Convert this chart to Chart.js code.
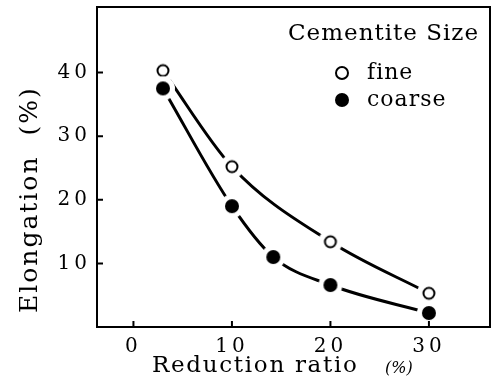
<!DOCTYPE html>
<html>
<head>
<meta charset="utf-8">
<script src="https://cdn.jsdelivr.net/npm/chart.js@4/dist/chart.umd.min.js"></script>
<style>
  html, body { margin: 0; padding: 0; background: #fff; overflow: hidden; }
  #wrap { position: relative; width: 492px; height: 381px; font-family: 'DejaVu Serif', serif; color: #000; }
  #wrap canvas { position: absolute; left: 0; top: 0; }
  #wrap div, #wrap span { position: absolute; white-space: nowrap; line-height: 1; }
  #ytitle { left: 16px; top: 313px; font-size: 25px; letter-spacing: 2px; transform: rotate(-90deg); transform-origin: 0 0; }
  #xtitle { left: 152px; top: 353px; font-size: 23px; letter-spacing: 1.7px; }
  #xpct { left: 385px; top: 360px; font-size: 16px; font-style: italic; }
  #legTitle { left: 288px; top: 21px; font-size: 23px; letter-spacing: 1px; }
  .legTxt { left: 367px; font-size: 22px; letter-spacing: 1px; }
  .mk { width: 14px; height: 14px; border-radius: 50%; box-sizing: border-box; }
</style>
</head>
<body>
<div id="wrap">
  <canvas id="grafico" width="492" height="381" style="width:492px;height:381px"></canvas>
  <div id="ytitle">Elongation<span style="position:relative;margin-left:20px">(%)</span></div>
  <div id="xtitle">Reduction ratio</div>
  <div id="xpct">(%)</div>
  <div id="legTitle">Cementite Size</div>
  <span class="mk" style="left:335px;top:66px;border:2px solid #000;background:#fff"></span>
  <div class="legTxt" style="top:61px">fine</div>
  <span class="mk" style="left:335px;top:93px;background:#000"></span>
  <div class="legTxt" style="top:88px">coarse</div>
</div>
<script>
// Elongation vs reduction ratio, two cementite sizes
const reducaoFina = [3, 10, 20, 30];
const alongFina = [40.3, 25.2, 13.4, 5.3];
const reducaoGrossa = [3, 10, 14.2, 20, 30];
const alongGrossa = [37.5, 19.0, 11.0, 6.6, 2.2];
const ticksX = [0, 10, 20, 30];
const ticksY = [10, 20, 30, 40];

const pontos = (xs, ys) => xs.map((x, i) => ({ x: x, y: ys[i] }));

// marcador com halo branco, para a curva parar antes do círculo
function marcador(cheio) {
  const c = document.createElement('canvas');
  c.width = c.height = 26;
  const g = c.getContext('2d');
  g.fillStyle = '#fff';
  g.beginPath(); g.arc(13, 13, 12, 0, 2 * Math.PI); g.fill();
  g.beginPath(); g.arc(13, 13, cheio ? 7 : 5.5, 0, 2 * Math.PI);
  if (cheio) { g.fillStyle = '#000'; g.fill(); }
  else { g.lineWidth = 2; g.strokeStyle = '#000'; g.stroke(); }
  return c;
}

function serie(xs, ys, cheio) {
  return {
    data: pontos(xs, ys),
    borderColor: '#000',
    borderWidth: 3,
    cubicInterpolationMode: 'monotone',
    pointStyle: marcador(cheio),
    pointRadius: 13
  };
}

// moldura completa + tracinhos para dentro nos ticks
const caixa = {
  id: 'caixa',
  beforeDraw(chart) { chart.ctx.letterSpacing = '4px'; },
  afterDraw(chart) {
    const { ctx, chartArea: a, scales } = chart;
    ctx.save();
    ctx.strokeStyle = '#000';
    ctx.lineWidth = 2;
    ctx.strokeRect(a.left, a.top, a.right - a.left, a.bottom - a.top);
    ctx.beginPath();
    scales.x.ticks.forEach(t => {
      const px = scales.x.getPixelForValue(t.value);
      ctx.moveTo(px, a.bottom); ctx.lineTo(px, a.bottom - 6);
    });
    scales.y.ticks.forEach(t => {
      const py = scales.y.getPixelForValue(t.value);
      ctx.moveTo(a.left, py); ctx.lineTo(a.left + 6, py);
    });
    ctx.stroke();
    ctx.restore();
  }
};

const fonteTick = { family: 'DejaVu Serif', size: 20 };
const semPadding = s => { s.paddingLeft = s.paddingRight = s.paddingTop = s.paddingBottom = 0; };

new Chart(document.getElementById('grafico'), {
  type: 'line',
  data: {
    datasets: [
      serie(reducaoGrossa, alongGrossa, true),
      serie(reducaoFina, alongFina, false)
    ]
  },
  options: {
    responsive: false,
    animation: false,
    devicePixelRatio: 1,
    layout: { autoPadding: false, padding: { top: 7, right: 2, left: 0, bottom: 0 } },
    plugins: { legend: { display: false }, tooltip: { enabled: false } },
    scales: {
      x: {
        type: 'linear', min: -3.7, max: 36.2,
        afterBuildTicks: s => { s.ticks = ticksX.map(v => ({ value: v })); },
        afterFit: s => { s.height = 54; semPadding(s); },
        grid: { display: false, drawTicks: false },
        border: { color: '#000', width: 2 },
        ticks: { color: '#000', font: fonteTick, padding: 8, maxRotation: 0 }
      },
      y: {
        type: 'linear', min: 0, max: 50.3,
        afterBuildTicks: s => { s.ticks = ticksY.map(v => ({ value: v })); },
        afterFit: s => { s.width = 97; semPadding(s); },
        grid: { display: false, drawTicks: false },
        border: { color: '#000', width: 2 },
        ticks: { color: '#000', font: fonteTick, padding: 6 }
      }
    }
  },
  plugins: [caixa]
});
</script>
</body>
</html>
